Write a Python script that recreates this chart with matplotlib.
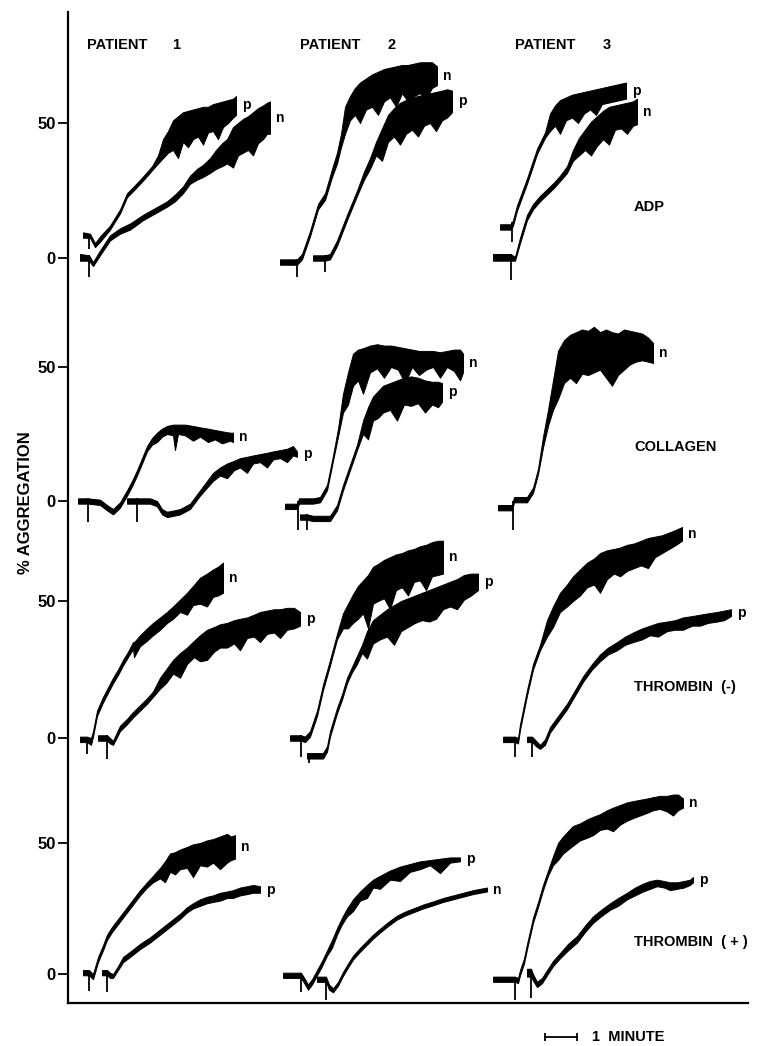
import matplotlib

matplotlib.use("Agg")
import matplotlib.pyplot as plt
import numpy as np

plt.rcParams["font.family"] = ["Liberation Sans", "DejaVu Sans"]
plt.rcParams["font.weight"] = "bold"

# --- data: % aggregation traces, x in chart units (32 units = 1 minute) ---
# each trace: x, upper envelope (hi), lower envelope (lo); spike = (x, lowest %)

# ADP
ADP_P1_P_X = [83, 90, 95, 100, 110, 120, 127, 135, 145, 152, 158, 163, 168, 173, 178, 183, 188, 193, 198, 203, 208, 213, 218, 223, 228, 233, 236]
ADP_P1_P_HI = [9.5, 9, 5.5, 8, 12, 18, 24, 27, 31, 34, 38, 44, 47, 51, 52.5, 54, 54.5, 55, 55.5, 56, 56, 57, 57.5, 58, 58.5, 59, 60]
ADP_P1_P_LO = [7.5, 7.5, 4, 6, 10.5, 16.5, 22.5, 25.5, 29.5, 32.5, 35, 37, 39, 40, 37, 43, 41, 44, 45, 42, 46.5, 47, 44, 48.5, 50, 52, 53]
ADP_P1_P_SPIKE = (89, 3.5)

ADP_P1_N_X = [80, 89, 93, 100, 110, 120, 130, 143, 155, 167, 175, 183, 190, 197, 203, 210, 216, 222, 227, 233, 238, 243, 248, 253, 258, 263, 267, 270]
ADP_P1_N_HI = [1.5, 1, -1.5, 2.8, 8.4, 11, 12.8, 16, 18.5, 21, 23.5, 26.5, 30.5, 33, 34.5, 37, 40, 42.5, 44, 48.5, 50, 51.5, 52.5, 54, 55.5, 56.5, 57.5, 58]
ADP_P1_N_LO = [-1, -1, -3, 1, 6.5, 9, 10.5, 14, 16.5, 19, 21, 24, 27.5, 29, 30, 31.5, 33, 34, 35, 33.5, 38, 39, 40, 38, 42.5, 44, 46, 46]
ADP_P1_N_SPIKE = (89, -7)

ADP_P2_N_X = [280, 297, 302, 310, 318, 325, 332, 337, 341, 345, 350, 355, 360, 366, 372, 378, 384, 390, 396, 402, 408, 414, 420, 426, 432, 437]
ADP_P2_N_HI = [-0.5, -0.5, 1.5, 10, 20, 24, 33, 39, 46, 56, 60, 63, 65, 66.5, 68, 69, 70, 70.5, 71, 71.5, 71.5, 72, 72.5, 72.5, 72.5, 71]
ADP_P2_N_LO = [-2.5, -2.5, -0.5, 8, 18, 21.5, 30, 35, 41, 46, 51, 53, 50, 55, 56, 53, 58, 59.5, 56, 61, 58, 60, 61, 59, 63, 64]
ADP_P2_N_SPIKE = (297, -7)

ADP_P2_P_X = [313, 325, 330, 337, 347, 357, 364, 370, 376, 382, 388, 394, 400, 406, 412, 418, 424, 430, 436, 442, 447, 452]
ADP_P2_P_HI = [1, 1, 1.5, 6.5, 16, 25, 32, 37, 43, 48, 53, 55.5, 57.5, 58.5, 59.5, 60, 60.5, 61, 61.5, 62, 62.5, 62]
ADP_P2_P_LO = [-1, -1, -0.5, 4.5, 14, 23, 29, 33, 38, 36, 43, 45, 42, 46, 47.5, 45, 49, 50, 47, 51, 52, 54]
ADP_P2_P_SPIKE = (325, -5)

ADP_P3_P_X = [500, 511, 513, 517, 522, 527, 532, 537, 541, 545, 550, 555, 560, 566, 572, 578, 584, 590, 596, 602, 608, 614, 620, 626]
ADP_P3_P_HI = [12.5, 12.5, 14, 19.5, 24.5, 29.5, 35, 40.5, 43.5, 46.5, 53.5, 56.5, 58.5, 59.5, 60.5, 61, 61.5, 62, 62.5, 63, 63.5, 64, 64.5, 65]
ADP_P3_P_LO = [10.5, 10.5, 12, 17.5, 22.5, 27.5, 33, 38.5, 41.5, 44.5, 47, 49, 46, 51, 52, 50, 53.5, 55, 53, 57, 57.5, 58, 58.5, 59]
ADP_P3_P_SPIKE = (512, 6)

ADP_P3_N_X = [493, 510, 515, 520, 527, 533, 540, 547, 554, 560, 567, 573, 579, 585, 591, 597, 603, 609, 615, 621, 627, 633, 637]
ADP_P3_N_HI = [1.5, 1.5, 0.5, 7.5, 16, 20, 23, 25.5, 28, 30.5, 34, 40, 44.5, 47.5, 50.5, 52.5, 54.5, 56, 56.5, 57, 57.5, 58, 59]
ADP_P3_N_LO = [-1, -1, -1, 5.5, 14, 18, 21, 23.5, 26, 28.5, 31.5, 36, 38, 40, 38, 41.5, 44, 42, 47.5, 48, 46, 49, 49.5]
ADP_P3_N_SPIKE = (511, -8)

# COLLAGEN
COL_P1_N_X = [78, 88, 100, 107, 113, 120, 127, 132, 137, 142, 147, 152, 157, 162, 167, 173, 175, 178, 185, 193, 200, 208, 215, 222, 230, 233]
COL_P1_N_HI = [1, 1, 0.5, -1.5, -3, -0.5, 4, 7.5, 11.5, 16, 20.5, 23.5, 25.5, 27, 28, 28.5, 28.5, 28.5, 28.5, 28, 27.5, 27, 26.5, 26, 25.5, 25.5]
COL_P1_N_LO = [-1, -1, -1.5, -3.5, -5, -2.5, 2, 5.5, 9.5, 14, 18.5, 21, 22, 24, 25, 24.5, 19, 25, 24.5, 22.5, 24, 22, 23, 21.5, 22.5, 22]
COL_P1_N_SPIKE = (88, -8)

COL_P1_P_X = [127, 137, 150, 157, 162, 167, 174, 180, 190, 200, 207, 213, 220, 227, 234, 240, 247, 253, 260, 267, 273, 280, 287, 293, 297]
COL_P1_P_HI = [1, 1, 1, 0, -3, -4, -3.5, -3, -1, 4, 7.5, 10.5, 12.5, 14, 15, 16, 16.5, 17, 17.5, 18, 18.5, 19, 19.5, 20.5, 18.5]
COL_P1_P_LO = [-1, -1, -1, -2, -5, -6, -5.5, -5, -3, 2, 5, 7.5, 9.5, 8.5, 11.5, 12.5, 10.5, 14, 14.5, 12.5, 15.5, 16, 14.5, 17, 16.5]
COL_P1_P_SPIKE = (137, -8)

COL_P2_N_X = [285, 297, 299, 313, 320, 327, 333, 338, 343, 348, 353, 358, 363, 370, 377, 384, 391, 398, 405, 412, 419, 426, 433, 440, 447, 454, 460, 463]
COL_P2_N_HI = [-1, -1, 1, 1, 1.5, 6, 17, 27, 40, 48, 55, 56.5, 57, 58, 58.5, 58, 58, 57.5, 57, 56.5, 56, 56, 56, 55.5, 56, 56.5, 56.5, 55]
COL_P2_N_LO = [-3, -3, -1, -1, -0.5, 4, 15, 24, 33, 36, 43, 45, 40, 48, 49.5, 46, 50, 49, 44, 50, 47, 49, 50, 46, 50, 48.5, 45, 48]
COL_P2_N_SPIKE = (298, -11)

COL_P2_P_X = [300, 307, 313, 330, 337, 343, 350, 357, 363, 368, 373, 378, 383, 390, 397, 404, 411, 418, 425, 432, 438, 442]
COL_P2_P_HI = [-5, -5, -5.5, -5.5, -1.5, 6, 13.5, 21, 30, 35, 39, 41, 43, 44, 45, 46, 46.5, 46, 45, 44.5, 44.5, 44]
COL_P2_P_LO = [-7, -7, -7.5, -7.5, -3.5, 4, 11.5, 19, 25, 23, 30, 31, 33, 34, 30, 36, 35.5, 36.5, 33, 36, 35, 37]
COL_P2_P_SPIKE = (307, -11)

COL_P3_N_X = [498, 512, 514, 527, 533, 538, 543, 548, 553, 558, 564, 570, 576, 582, 588, 594, 600, 606, 612, 618, 624, 630, 636, 642, 648, 653]
COL_P3_N_HI = [-1.5, -1.5, 1.5, 1.5, 5, 12, 24, 34, 45, 56, 60, 62, 63, 64, 63.5, 65, 63, 64, 63, 62.5, 64, 63.5, 63, 62.5, 61, 59]
COL_P3_N_LO = [-3.5, -3.5, -0.5, -0.5, 3, 10, 20, 28, 34, 38, 44, 46, 44, 47.5, 47, 48, 49, 46, 43, 47, 49, 51, 52, 52.5, 52, 51.5]
COL_P3_N_SPIKE = (513, -11)

# THROMBIN (-)
THM_P1_N_X = [80, 87, 91, 93, 97, 103, 108, 113, 118, 123, 128, 133, 134, 140, 147, 153, 160, 167, 173, 180, 187, 193, 200, 207, 213, 218, 223]
THM_P1_N_HI = [0.5, 0.5, 0, 2.5, 10, 15, 18.5, 22, 25, 28.5, 31.5, 35, 35, 37.5, 40, 42, 44, 46, 48, 50.5, 53, 55.5, 58.5, 60, 61.5, 62.5, 64]
THM_P1_N_LO = [-1.5, -1.5, -2.5, 0.5, 8, 13, 16.5, 20, 23, 26.5, 29.5, 32.5, 29.5, 33.5, 35.5, 37.5, 39.5, 42, 43.5, 46, 45, 48.5, 49, 48, 51.5, 52, 53]
THM_P1_N_SPIKE = (87, -6)

THM_P1_P_X = [98, 107, 110, 113, 120, 127, 133, 140, 147, 153, 160, 166, 173, 180, 187, 194, 200, 207, 214, 220, 227, 234, 240, 247, 254, 260, 267, 274, 280, 287, 294, 300]
THM_P1_P_HI = [1, 1, 0, -1, 4.5, 7, 9.5, 12, 14.5, 17, 22, 25, 28.5, 31, 33, 35.5, 37.5, 39.5, 40.5, 41.5, 42, 43, 43.5, 44, 45, 46, 46.5, 47, 47, 47.5, 47.5, 46]
THM_P1_P_LO = [-1, -1, -2, -2.5, 2.5, 5, 7.5, 10, 12.5, 15, 18, 20, 23.5, 22, 27, 29.5, 28, 28.5, 31.5, 33, 33, 34.5, 32, 36.5, 37, 35, 38, 38.5, 36.5, 39.5, 40, 41]
THM_P1_P_SPIKE = (107, -7.5)

THM_P2_N_X = [290, 301, 305, 310, 317, 323, 330, 337, 343, 348, 353, 358, 363, 368, 373, 378, 384, 390, 396, 402, 408, 414, 420, 426, 432, 438, 443]
THM_P2_N_HI = [1, 1, 0.5, 2.5, 10, 19.5, 28.5, 38, 45.5, 49, 52.5, 55.5, 57.5, 59.5, 62.5, 63.5, 65, 66, 67, 67.5, 68.5, 69, 70, 70.5, 71.5, 72, 72]
THM_P2_N_LO = [-1, -1, -1.5, 0.5, 8, 17.5, 26.5, 36, 40, 40, 42, 43.5, 45.5, 40, 49, 50, 51, 47, 54, 55, 52, 57, 57.5, 54, 59, 59.5, 60]
THM_P2_N_SPIKE = (301, -7)

THM_P2_P_X = [307, 323, 327, 330, 337, 342, 347, 352, 357, 362, 367, 373, 380, 387, 394, 401, 408, 415, 422, 429, 436, 443, 450, 457, 464, 471, 478]
THM_P2_P_HI = [-5.5, -5.5, -3, 2.5, 11, 16, 22, 26, 30, 34, 39, 43, 45, 47, 48.5, 50, 51, 52, 53, 54, 55, 56, 57, 58, 59.5, 60, 60]
THM_P2_P_LO = [-7.5, -7.5, -5, 0.5, 9, 14, 20, 24, 27, 31, 29, 34.5, 36, 37, 34, 39, 40.5, 42, 43, 42.5, 43.5, 47, 48, 47, 50.5, 52, 54]
THM_P2_P_SPIKE = (309, -9)

THM_P3_N_X = [503, 515, 518, 520, 527, 533, 540, 547, 553, 560, 567, 573, 580, 587, 594, 600, 607, 614, 620, 627, 634, 641, 648, 655, 662, 669, 676, 682]
THM_P3_N_HI = [0.5, 0.5, 0, 5, 17.5, 27, 34, 43, 48, 53, 56, 59, 61.5, 64, 65.5, 67.5, 68.5, 69, 69.5, 70.5, 71, 72, 73, 73.5, 74, 75, 76, 77]
THM_P3_N_LO = [-1.5, -1.5, -2, 3, 15.5, 25, 32, 37, 40.5, 46, 48, 50, 52, 55, 56, 53, 58, 60, 59, 61, 62, 63, 62, 66, 67.5, 69, 70.5, 72]
THM_P3_N_SPIKE = (515, -7)

THM_P3_P_X = [527, 532, 536, 540, 545, 550, 558, 567, 575, 583, 592, 600, 608, 617, 625, 633, 642, 650, 658, 667, 675, 683, 692, 700, 708, 717, 724, 731]
THM_P3_P_HI = [0.5, 0.5, -1, -2.5, -0.5, 4, 8, 12.5, 17.5, 22.5, 27, 30.5, 33, 35, 37, 38.5, 40, 41, 42, 42.5, 43, 44, 44.5, 45, 45.5, 46, 46.5, 47]
THM_P3_P_LO = [-1.5, -1.5, -3, -4, -2.5, 2, 6, 10.5, 15.5, 20.5, 25, 28, 30.5, 32, 34, 35, 36, 37.5, 37, 39, 39.5, 39.5, 41, 41, 42, 42.5, 43, 44.5]
THM_P3_P_SPIKE = (532, -7)

# THROMBIN (+)
THP_P1_N_X = [83, 89, 93, 98, 103, 107, 112, 117, 122, 127, 133, 140, 147, 153, 160, 165, 170, 175, 180, 187, 193, 200, 207, 213, 220, 227, 231, 235]
THP_P1_N_HI = [1.5, 1.5, 0, 6.5, 11, 15, 18, 20.5, 23, 25.5, 28.5, 32, 35, 37.5, 40.5, 43, 46, 46.5, 47.5, 48.5, 49.5, 50, 51, 51.5, 52.5, 53.5, 52.5, 53]
THP_P1_N_LO = [-0.5, -0.5, -2, 4.5, 9, 13, 16, 18.5, 21, 23.5, 26.5, 30, 33, 35, 36.5, 35, 39, 38, 40, 40.5, 37, 41.5, 41, 42.5, 40, 42.5, 43.5, 44]
THP_P1_N_SPIKE = (89, -6.5)

THP_P1_P_X = [102, 107, 110, 113, 118, 123, 130, 140, 150, 160, 170, 180, 187, 193, 200, 207, 213, 220, 227, 233, 240, 247, 253, 260]
THP_P1_P_HI = [1.5, 1.5, 0.5, 0, 3, 6.5, 8.5, 11.5, 14, 17, 20, 23, 25.5, 27, 28.5, 29.5, 30, 31, 31.5, 32, 33, 33.5, 34, 33.5]
THP_P1_P_LO = [-0.5, -0.5, -1.5, -1.5, 1.5, 4.5, 6.5, 9.5, 12, 15, 18, 21, 23.5, 25, 26, 27, 27.5, 28, 29, 29, 30, 30.5, 31, 31]
THP_P1_P_SPIKE = (107, -7)

THP_P2_P_X = [283, 301, 305, 308, 312, 317, 322, 327, 332, 337, 342, 347, 353, 360, 367, 373, 380, 390, 400, 410, 420, 430, 440, 450, 460]
THP_P2_P_HI = [0.5, 0.5, -2, -4, -2, 1.5, 5, 9, 13, 17.5, 21.5, 25, 28.5, 31.5, 34, 36, 37.5, 39.5, 41, 42, 43, 43.5, 44, 44.5, 44.5]
THP_P2_P_LO = [-1.5, -1.5, -4, -6, -4, -0.5, 3, 7, 10, 15, 19, 22, 24, 28, 29, 33, 32.5, 36, 35.5, 39, 40, 41.5, 38.5, 42.5, 43]
THP_P2_P_SPIKE = (301, -7)

THP_P2_N_X = [317, 326, 329, 333, 338, 343, 348, 353, 360, 367, 373, 380, 388, 397, 405, 413, 423, 433, 443, 453, 463, 473, 480, 487]
THP_P2_N_HI = [-1, -1, -4, -5.5, -3, 0.8, 4, 7, 10, 12.7, 15, 17.3, 19.8, 22.3, 23.8, 25, 26.5, 27.7, 29, 30, 31, 32, 32.5, 33]
THP_P2_N_LO = [-3, -3, -6, -7, -4.5, -0.7, 2.5, 5.5, 8.5, 11.2, 13.5, 15.8, 18.3, 20.8, 22.3, 23.5, 25, 26.2, 27.5, 28.5, 29.5, 30.5, 31, 31.5]
THP_P2_N_SPIKE = (326, -10)

THP_P3_N_X = [493, 515, 518, 520, 524, 527, 530, 533, 538, 543, 548, 553, 558, 563, 568, 573, 580, 587, 593, 600, 607, 613, 620, 627, 633, 640, 647, 653, 660, 667, 673, 678, 683]
THP_P3_N_HI = [-1, -1, -1.5, 1.5, 6, 11.5, 16.5, 21.5, 27.5, 34, 39.5, 45, 50, 52.5, 54.5, 56.5, 57.5, 59, 60, 61, 62.5, 63.5, 64.5, 65.5, 66, 66.5, 67, 67.5, 68, 68, 68.5, 68.5, 67]
THP_P3_N_LO = [-3, -3, -3.5, -0.5, 4, 9.5, 14.5, 19.5, 25.5, 32, 37.5, 41.5, 43.5, 46, 47.5, 49, 51, 52, 53, 55, 55.5, 54.5, 57, 58.5, 59.5, 60.5, 61.5, 62.5, 63, 62, 60.5, 62.5, 63.5]
THP_P3_N_SPIKE = (515, -10)

THP_P3_P_X = [527, 531, 533, 537, 542, 547, 553, 560, 568, 577, 585, 593, 601, 610, 618, 627, 635, 643, 650, 657, 664, 670, 677, 684, 690, 693]
THP_P3_P_HI = [2, 2, 0, -3, -1.5, 1.5, 5, 8, 11.5, 14.5, 18.5, 22, 24.5, 27, 29, 31, 33, 34.5, 35.5, 36, 35.5, 35, 35, 35.5, 36, 37]
THP_P3_P_LO = [-1, -1, -2.5, -5, -3.5, -0.5, 3, 6, 9, 12, 16, 19.5, 22, 24.5, 26, 28.5, 30, 31.5, 32.5, 33.5, 33, 32, 32.5, 33, 34, 35]
THP_P3_P_SPIKE = (531, -9)

AGONISTS = ["ADP", "COLLAGEN", "THROMBIN  (-)", "THROMBIN  ( + )"]
PATIENTS = ["1", "2", "3"]
Y_TICKS = [0, 50]
UNITS_PER_MINUTE = 32

ROWS = [
    [("p", ADP_P1_P_X, ADP_P1_P_HI, ADP_P1_P_LO, ADP_P1_P_SPIKE),
     ("n", ADP_P1_N_X, ADP_P1_N_HI, ADP_P1_N_LO, ADP_P1_N_SPIKE),
     ("n", ADP_P2_N_X, ADP_P2_N_HI, ADP_P2_N_LO, ADP_P2_N_SPIKE),
     ("p", ADP_P2_P_X, ADP_P2_P_HI, ADP_P2_P_LO, ADP_P2_P_SPIKE),
     ("p", ADP_P3_P_X, ADP_P3_P_HI, ADP_P3_P_LO, ADP_P3_P_SPIKE),
     ("n", ADP_P3_N_X, ADP_P3_N_HI, ADP_P3_N_LO, ADP_P3_N_SPIKE)],
    [("n", COL_P1_N_X, COL_P1_N_HI, COL_P1_N_LO, COL_P1_N_SPIKE),
     ("p", COL_P1_P_X, COL_P1_P_HI, COL_P1_P_LO, COL_P1_P_SPIKE),
     ("n", COL_P2_N_X, COL_P2_N_HI, COL_P2_N_LO, COL_P2_N_SPIKE),
     ("p", COL_P2_P_X, COL_P2_P_HI, COL_P2_P_LO, COL_P2_P_SPIKE),
     ("n", COL_P3_N_X, COL_P3_N_HI, COL_P3_N_LO, COL_P3_N_SPIKE)],
    [("n", THM_P1_N_X, THM_P1_N_HI, THM_P1_N_LO, THM_P1_N_SPIKE),
     ("p", THM_P1_P_X, THM_P1_P_HI, THM_P1_P_LO, THM_P1_P_SPIKE),
     ("n", THM_P2_N_X, THM_P2_N_HI, THM_P2_N_LO, THM_P2_N_SPIKE),
     ("p", THM_P2_P_X, THM_P2_P_HI, THM_P2_P_LO, THM_P2_P_SPIKE),
     ("n", THM_P3_N_X, THM_P3_N_HI, THM_P3_N_LO, THM_P3_N_SPIKE),
     ("p", THM_P3_P_X, THM_P3_P_HI, THM_P3_P_LO, THM_P3_P_SPIKE)],
    [("n", THP_P1_N_X, THP_P1_N_HI, THP_P1_N_LO, THP_P1_N_SPIKE),
     ("p", THP_P1_P_X, THP_P1_P_HI, THP_P1_P_LO, THP_P1_P_SPIKE),
     ("p", THP_P2_P_X, THP_P2_P_HI, THP_P2_P_LO, THP_P2_P_SPIKE),
     ("n", THP_P2_N_X, THP_P2_N_HI, THP_P2_N_LO, THP_P2_N_SPIKE),
     ("n", THP_P3_N_X, THP_P3_N_HI, THP_P3_N_LO, THP_P3_N_SPIKE),
     ("p", THP_P3_P_X, THP_P3_P_HI, THP_P3_P_LO, THP_P3_P_SPIKE)],
]

# --- layout (pixels of the 766 x 1046 canvas) ---
W, H = 766, 1046
AX_LEFT, AX_RIGHT, AX_TOP, AX_BOTTOM = 68, 748, 12, 1003
ROW_BANDS = [(12, 290), (290, 525), (525, 765), (765, 1003)]
ROW_ZERO_PX = [258, 501, 738, 974]
ROW_FIFTY_PX = [123, 367, 601, 843]
AGONIST_X = 634
AGONIST_Y = [19, 20, 18.6, 12.3]
HEADER_X = [(87, 172), (300, 387), (515, 603)]
HEADER_Y = 45


def fig_box(left, top, right, bottom):
    return [left / W, 1 - bottom / H, (right - left) / W, (bottom - top) / H]


fig = plt.figure(figsize=(W / 100, H / 100), dpi=100)
fig.patch.set_facecolor("white")

frame = fig.add_axes(fig_box(AX_LEFT, AX_TOP, AX_RIGHT, AX_BOTTOM))
frame.patch.set_visible(False)
for side in ("top", "right"):
    frame.spines[side].set_visible(False)
for side in ("left", "bottom"):
    frame.spines[side].set_linewidth(1.6)
frame.set_xticks([])
frame.set_yticks([])

row_axes = []
for r, traces in enumerate(ROWS):
    top, bot = ROW_BANDS[r]
    scale = (ROW_ZERO_PX[r] - ROW_FIFTY_PX[r]) / 50.0
    ax = fig.add_axes(fig_box(AX_LEFT, top, AX_RIGHT, bot))
    ax.patch.set_visible(False)
    ax.set_xlim(AX_LEFT, AX_RIGHT)
    ax.set_ylim((ROW_ZERO_PX[r] - bot) / scale, (ROW_ZERO_PX[r] - top) / scale)
    for side in ax.spines:
        ax.spines[side].set_visible(False)
    ax.set_xticks([])
    ax.set_yticks(Y_TICKS)
    ax.set_yticklabels([str(t) for t in Y_TICKS], fontsize=12, fontweight="bold")
    ax.tick_params(axis="y", direction="out", length=7, width=1.3, pad=2)

    for label, x, hi, lo, spike in traces:
        x = np.asarray(x, dtype=float)
        hi = np.asarray(hi, dtype=float)
        lo = np.asarray(lo, dtype=float)
        ax.fill_between(x, lo, hi, facecolor="black", edgecolor="black",
                        linewidth=0.7, clip_on=False, zorder=3)
        sx, sbottom = spike
        ax.vlines(sx, sbottom, np.interp(sx, x, hi), color="black", lw=1.3,
                  clip_on=False, zorder=3)
        ax.text(x[-1] + 6, (hi[-1] + lo[-1]) / 2, label, ha="left", va="center",
                fontsize=10, fontweight="bold")

    ax.text(AGONIST_X, AGONIST_Y[r], AGONISTS[r], ha="left", va="center",
            fontsize=10.5, fontweight="bold")
    row_axes.append(ax)

# patient headers
for (xt, xn), num in zip(HEADER_X, PATIENTS):
    fig.text(xt / W, 1 - HEADER_Y / H, "PATIENT", ha="left", va="center",
             fontsize=10.5, fontweight="bold")
    fig.text(xn / W, 1 - HEADER_Y / H, num, ha="left", va="center",
             fontsize=10.5, fontweight="bold")

fig.text(25 / W, 1 - 503 / H, "% AGGREGATION", rotation=90, ha="center",
         va="center", fontsize=12, fontweight="bold")

# 1 minute scale bar, below the last row
last = row_axes[-1]
bar_y = (ROW_ZERO_PX[-1] - 1037) / ((ROW_ZERO_PX[-1] - ROW_FIFTY_PX[-1]) / 50.0)
bar_x0 = 545
last.plot([bar_x0, bar_x0 + UNITS_PER_MINUTE], [bar_y, bar_y], color="black",
          lw=1.3, marker="|", markersize=6, mew=1.3, clip_on=False)
last.text(bar_x0 + UNITS_PER_MINUTE + 15, bar_y, "1  MINUTE", ha="left",
          va="center", fontsize=10.5, fontweight="bold")

fig.savefig("out.png", dpi=100, facecolor="white")
